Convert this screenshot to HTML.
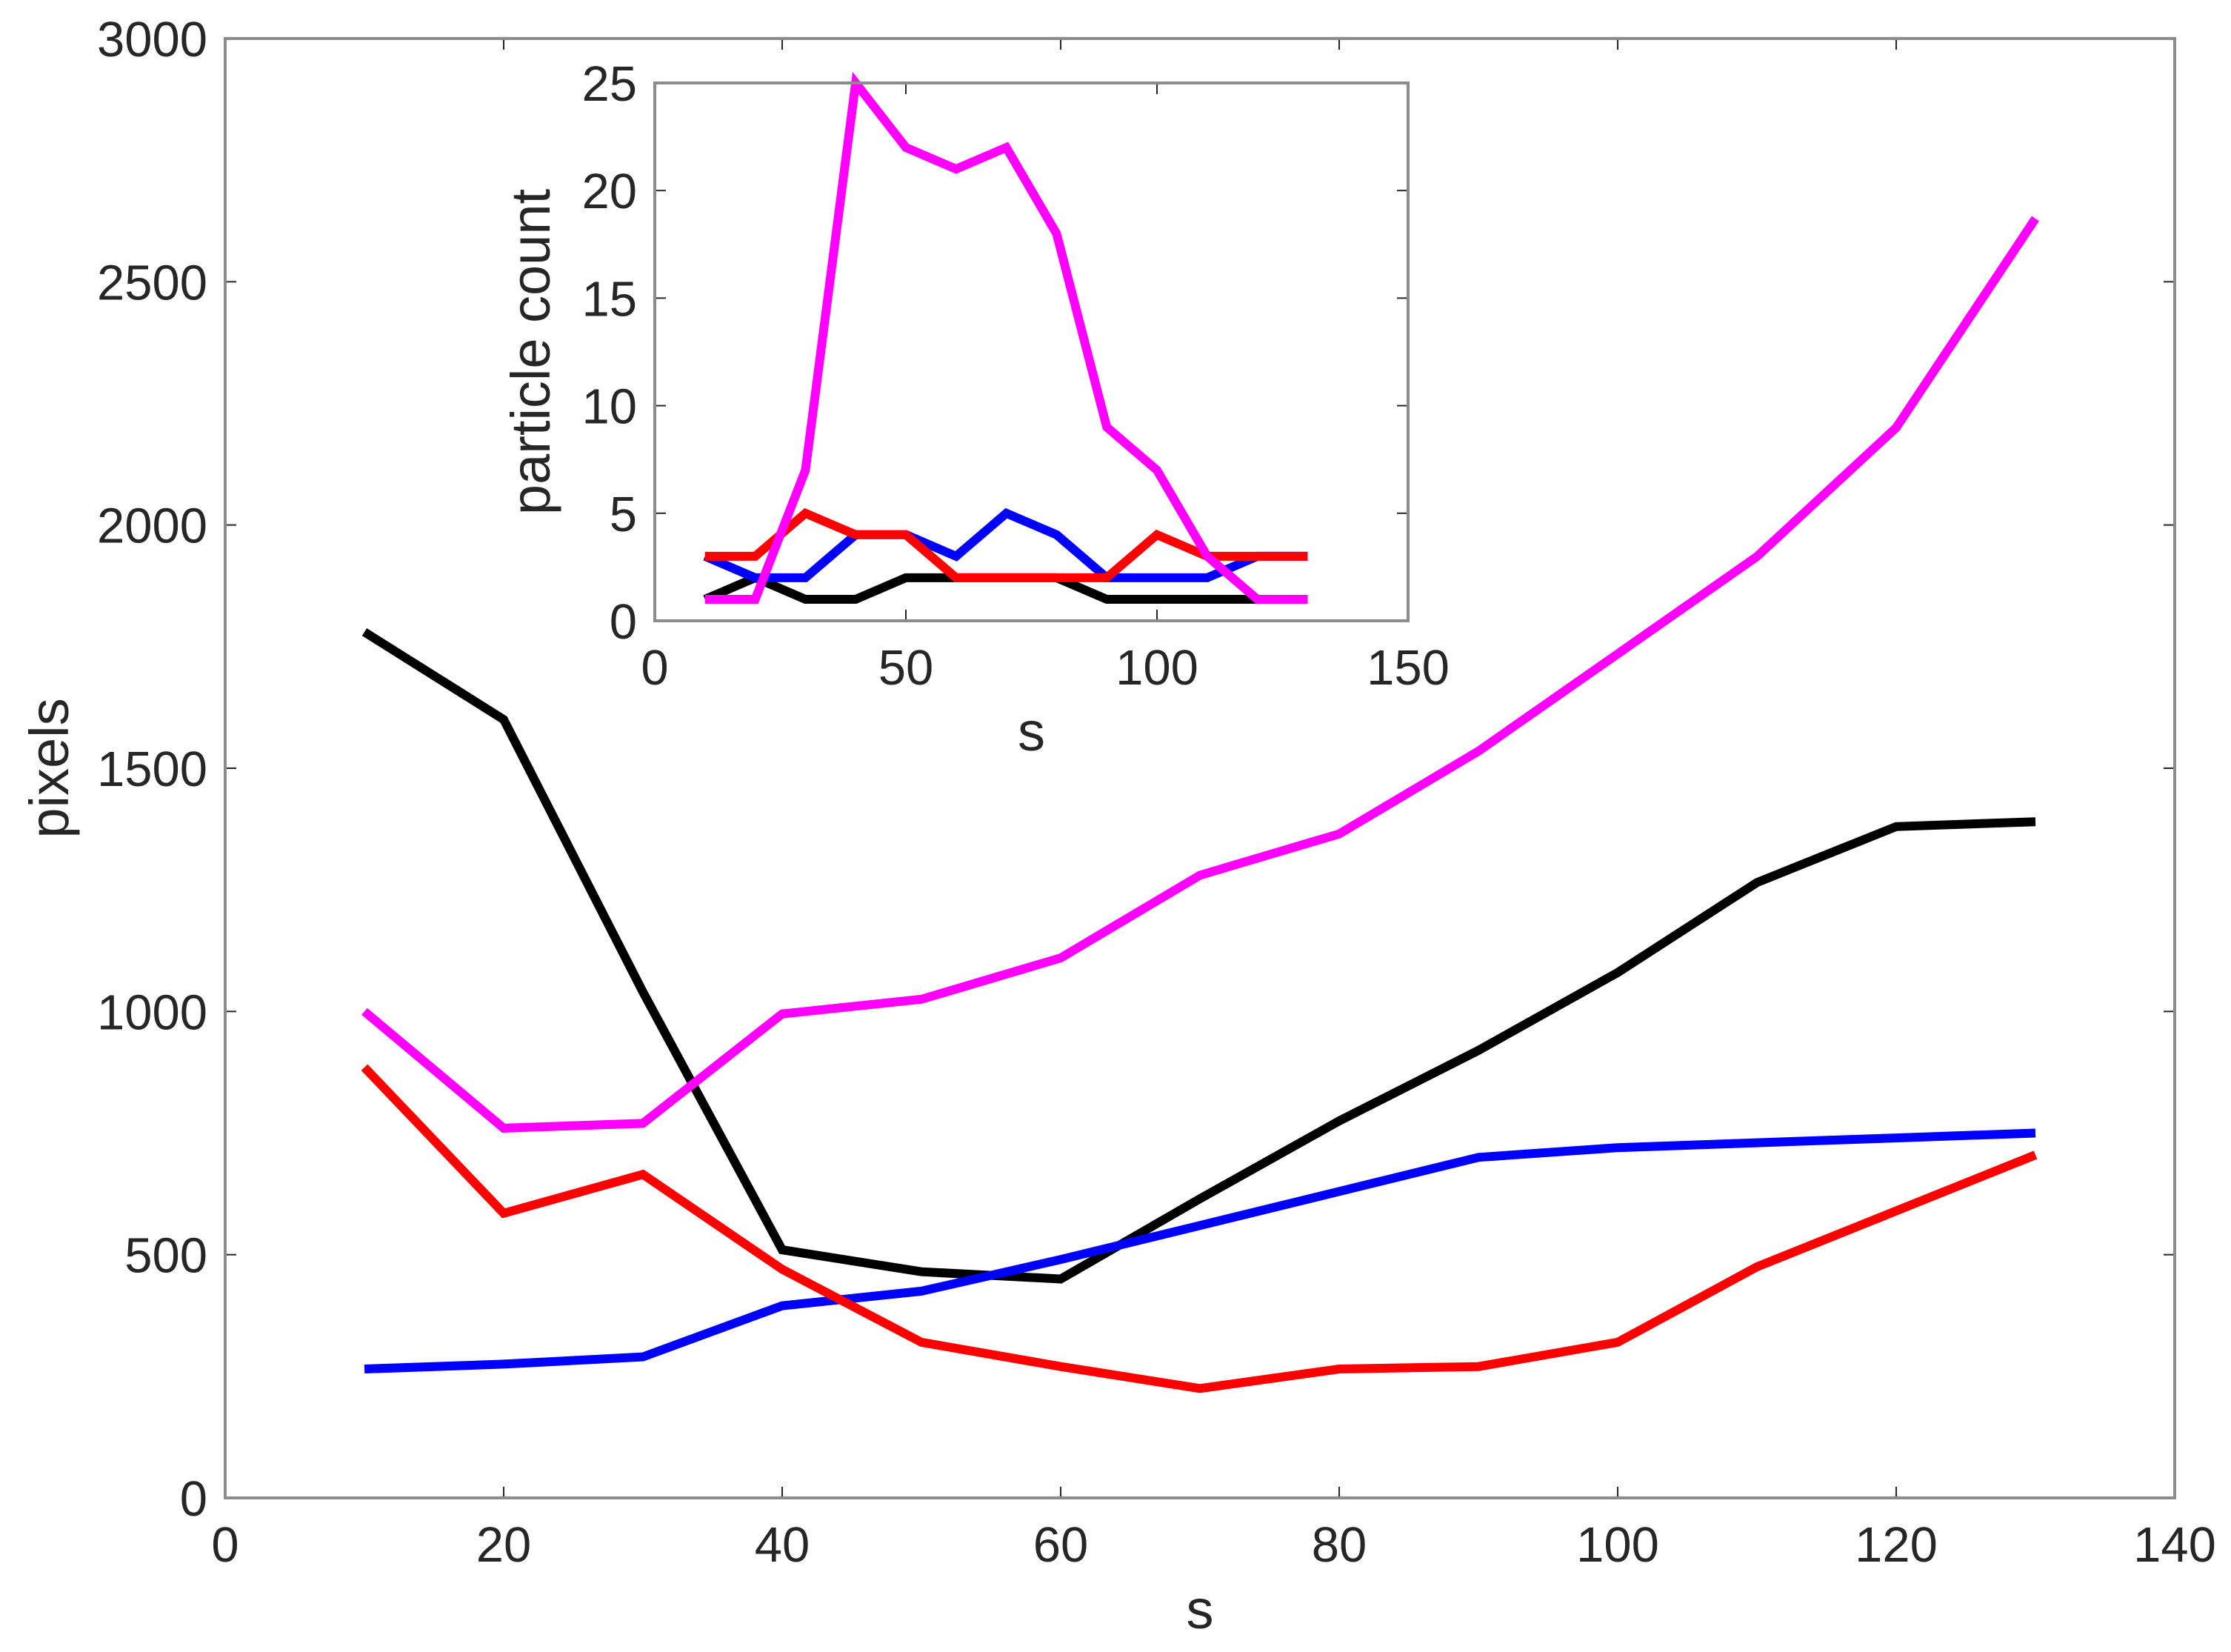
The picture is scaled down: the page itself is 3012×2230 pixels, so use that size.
<!DOCTYPE html>
<html><head><meta charset="utf-8"><style>
html,body{margin:0;padding:0;background:#fff;}
svg{display:block;}
text{font-family:"Liberation Sans",Arial,sans-serif;fill:#262626;}
</style></head><body>
<svg id="chart" width="3012" height="2230" viewBox="0 0 3012 2230"></svg>
<script>
const xs=[10,20,30,40,50,60,70,80,90,100,110,120,130];
const mainBlack=[1780,1600,1040,510,465,450,615,775,920,1080,1265,1380,1390];
const mainBlue=[265,275,290,395,425,490,560,630,700,720,730,740,750];
const mainRed=[885,585,665,470,320,270,225,265,270,320,475,590,705];
const mainMagenta=[1000,760,770,995,1025,1110,1280,1365,1535,1735,1935,2200,2630];
const mainXTicks=[0,20,40,60,80,100,120,140];
const mainYTicks=[0,500,1000,1500,2000,2500,3000];
const insBlack=[1,2,1,1,2,2,2,2,1,1,1,1,1];
const insBlue=[3,2,2,4,4,3,5,4,2,2,2,3,3];
const insRed=[3,3,5,4,4,2,2,2,2,4,3,3,3];
const insMagenta=[1,1,7,25,22,21,22,18,9,7,3,1,1];
const insXTicks=[0,50,100,150];
const insYTicks=[0,5,10,15,20,25];

const NS="http://www.w3.org/2000/svg";
const svg=document.getElementById('chart');
function mk(tag,attrs,parent){const e=document.createElementNS(NS,tag);for(const k in attrs)e.setAttribute(k,attrs[k]);(parent||svg).appendChild(e);return e;}

function axes(cfg){
  const g=mk('g',{});
  
  
  const sx=v=>cfg.l+(v-cfg.x0)/(cfg.x1-cfg.x0)*(cfg.r-cfg.l);
  const sy=v=>cfg.b-(v-cfg.y0)/(cfg.y1-cfg.y0)*(cfg.b-cfg.t);
  mk('rect',{x:cfg.l,y:cfg.t,width:cfg.r-cfg.l,height:cfg.b-cfg.t,fill:'#fff',stroke:'none'},g);
  const tl=15;
  cfg.xt.forEach(v=>{
    const x=sx(v);
    mk('line',{x1:x,y1:cfg.b,x2:x,y2:cfg.b-tl,stroke:'#262626','stroke-width':2},g);
    mk('line',{x1:x,y1:cfg.t,x2:x,y2:cfg.t+tl,stroke:'#262626','stroke-width':2},g);
    const t=mk('text',{x:x,y:cfg.b+86,'font-size':67,'text-anchor':'middle'},g);
    t.textContent=v;
    
    
  });
  cfg.yt.forEach(v=>{
    const y=sy(v);
    mk('line',{x1:cfg.l,y1:y,x2:cfg.l+tl,y2:y,stroke:'#262626','stroke-width':2},g);
    mk('line',{x1:cfg.r,y1:y,x2:cfg.r-tl,y2:y,stroke:'#262626','stroke-width':2},g);
    const t=mk('text',{x:cfg.l-24,y:y+24,'font-size':67,'text-anchor':'end'},g);
    t.textContent=v;
    
    
  });
  cfg.series.forEach(s=>{
    const pts=xs.map((x,i)=>sx(x).toFixed(1)+','+sy(s.d[i]).toFixed(1)).join(' ');
    const p=mk('polyline',{points:pts,fill:'none',stroke:s.c,'stroke-width':12,'stroke-linejoin':'miter','stroke-linecap':'butt'},g);
    
    
  });
  mk('rect',{x:cfg.l,y:cfg.t,width:cfg.r-cfg.l,height:cfg.b-cfg.t,fill:'none',stroke:'#8c8c8c','stroke-width':4},g);
  const xl=mk('text',{x:(cfg.l+cfg.r)/2,y:cfg.b+cfg.xlOff,'font-size':74,'text-anchor':'middle'},g);
  xl.textContent=cfg.xl;
  
  
  const yx=cfg.l-cfg.ylOff, yy=(cfg.t+cfg.b)/2;
  const yl=mk('text',{x:yx,y:yy,'font-size':74,'text-anchor':'middle',transform:'rotate(-90 '+yx+' '+yy+')'},g);
  yl.textContent=cfg.yl;
  
  
}

axes({name:'main-axes',l:304,r:2936,t:52,b:2022,x0:0,x1:140,y0:0,y1:3000,xt:mainXTicks,yt:mainYTicks,
  xl:'s',yl:'pixels',xlOff:176,ylOff:212,
  series:[{n:'main-black-line',c:'#000',d:mainBlack},{n:'main-blue-line',c:'#0000ff',d:mainBlue},{n:'main-red-line',c:'#ff0000',d:mainRed},{n:'main-magenta-line',c:'#ff00ff',d:mainMagenta}]});
axes({name:'inset-axes',l:884,r:1901,t:112,b:838,x0:0,x1:150,y0:0,y1:25,xt:insXTicks,yt:insYTicks,
  xl:'s',yl:'particle count',xlOff:175,ylOff:142,
  series:[{n:'inset-black-line',c:'#000',d:insBlack},{n:'inset-blue-line',c:'#0000ff',d:insBlue},{n:'inset-red-line',c:'#ff0000',d:insRed},{n:'inset-magenta-line',c:'#ff00ff',d:insMagenta}]});
</script>
</body></html>
